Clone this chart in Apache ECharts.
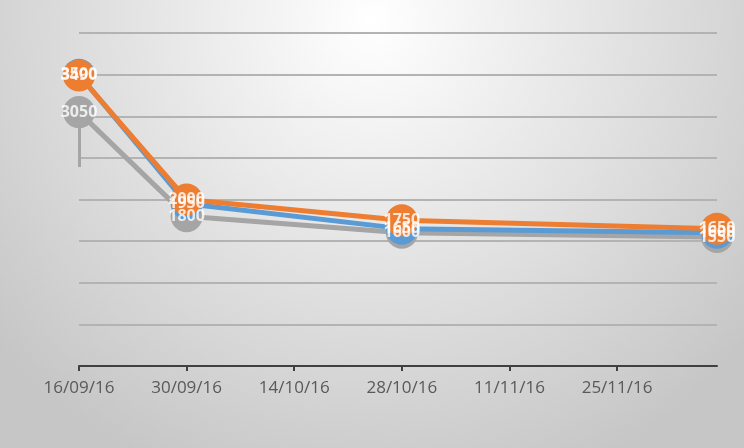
<!DOCTYPE html>
<html><head><meta charset="utf-8">
<script src="https://cdn.jsdelivr.net/npm/echarts@6/dist/echarts.min.js"></script>
<style>html,body{margin:0;padding:0;}#c{width:744px;height:448px;}</style>
</head><body><div id="c"></div>
<script>
const dates = ['2016-09-16', '2016-09-30', '2016-10-28', '2016-12-08'];
const blueValues = [3500, 1950, 1650, 1600];
const orangeValues = [3490, 2000, 1750, 1650];
const grayValues = [3050, 1800, 1600, 1550];
const tickDates = ['2016-09-16', '2016-09-30', '2016-10-14', '2016-10-28', '2016-11-11', '2016-11-25'];
const grayStub = [['2016-09-16', 3050], ['2016-09-16', 2390]];

const DAY = 86400000;
function ts(d){ const p = d.split('-').map(Number); return Date.UTC(p[0], p[1]-1, p[2]); }
const t0 = ts(dates[0]);
function dayNum(d){ return Math.round((ts(d) - t0) / DAY); }
function fmt(v){ const d = new Date(t0 + v * DAY); const dd = String(d.getUTCDate()).padStart(2,'0'); const mm = String(d.getUTCMonth()+1).padStart(2,'0'); const yy = String(d.getUTCFullYear()).slice(2); return dd+'/'+mm+'/'+yy; }
const tickDays = tickDates.map(dayNum);

function mk(name, vals, color, z){
  return {
    name: name, type: 'line', z: z,
    data: dates.map((d,i)=>[dayNum(d), vals[i]]),
    symbol: 'circle', symbolSize: 32,
    lineStyle: {color: color, width: 5},
    itemStyle: {color: color},
    label: {show: false},
    emphasis: {disabled: true}, animation: false
  };
}
function lbl(name, vals){
  return {
    name: name + '-label', type: 'scatter', z: 20,
    data: dates.map((d,i)=>[dayNum(d), vals[i]]),
    symbol: 'circle', symbolSize: 1,
    itemStyle: {color: 'rgba(0,0,0,0)'},
    label: {show: true, position: 'inside', color: '#ffffff', fontFamily: 'Open Sans', fontWeight: 'bold', fontSize: 16,
      formatter: p => String(p.value[1])},
    emphasis: {disabled: true}, silent: true, animation: false
  };
}
const grayS = mk('C', grayValues, '#A5A5A5', 2);
grayS.markLine = {silent: true, symbol: 'none', animation: false, label: {show: false},
  lineStyle: {color: '#A5A5A5', width: 3, type: 'solid'},
  data: [[{coord: [dayNum(grayStub[0][0]), grayStub[0][1]]}, {coord: [dayNum(grayStub[1][0]), grayStub[1][1]]}]]};

const chart = echarts.init(document.getElementById('c'), null, {renderer: 'canvas'});
chart.setOption({
  animation: false,
  backgroundColor: {type: 'radial', x: 0.5, y: 0.05, r: 1.1, colorStops: [{offset: 0, color: '#ffffff'}, {offset: 1, color: '#c6c6c6'}]},
  grid: {left: 79, right: 27, top: 33, bottom: 82, containLabel: false},
  xAxis: {
    type: 'value', min: 0, max: dayNum(dates[dates.length-1]),
    axisLine: {show: true, lineStyle: {color: '#404040', width: 2}},
    axisTick: {show: true, length: 5, lineStyle: {color: '#404040', width: 2}, customValues: tickDays},
    axisLabel: {customValues: tickDays, formatter: v => fmt(v), color: '#595959', fontFamily: 'Open Sans', fontSize: 17, margin: 14},
    splitLine: {show: false}
  },
  yAxis: {
    type: 'value', min: 0, max: 4000, interval: 500,
    axisLine: {show: false}, axisTick: {show: false}, axisLabel: {show: false},
    splitLine: {show: true, lineStyle: {color: '#b3b3b3', width: 2}}
  },
  series: [grayS, mk('A', blueValues, '#5B9BD5', 3), mk('B', orangeValues, '#ED7D31', 4),
    lbl('A', blueValues), lbl('B', orangeValues), lbl('C', grayValues)]
});
</script></body></html>
